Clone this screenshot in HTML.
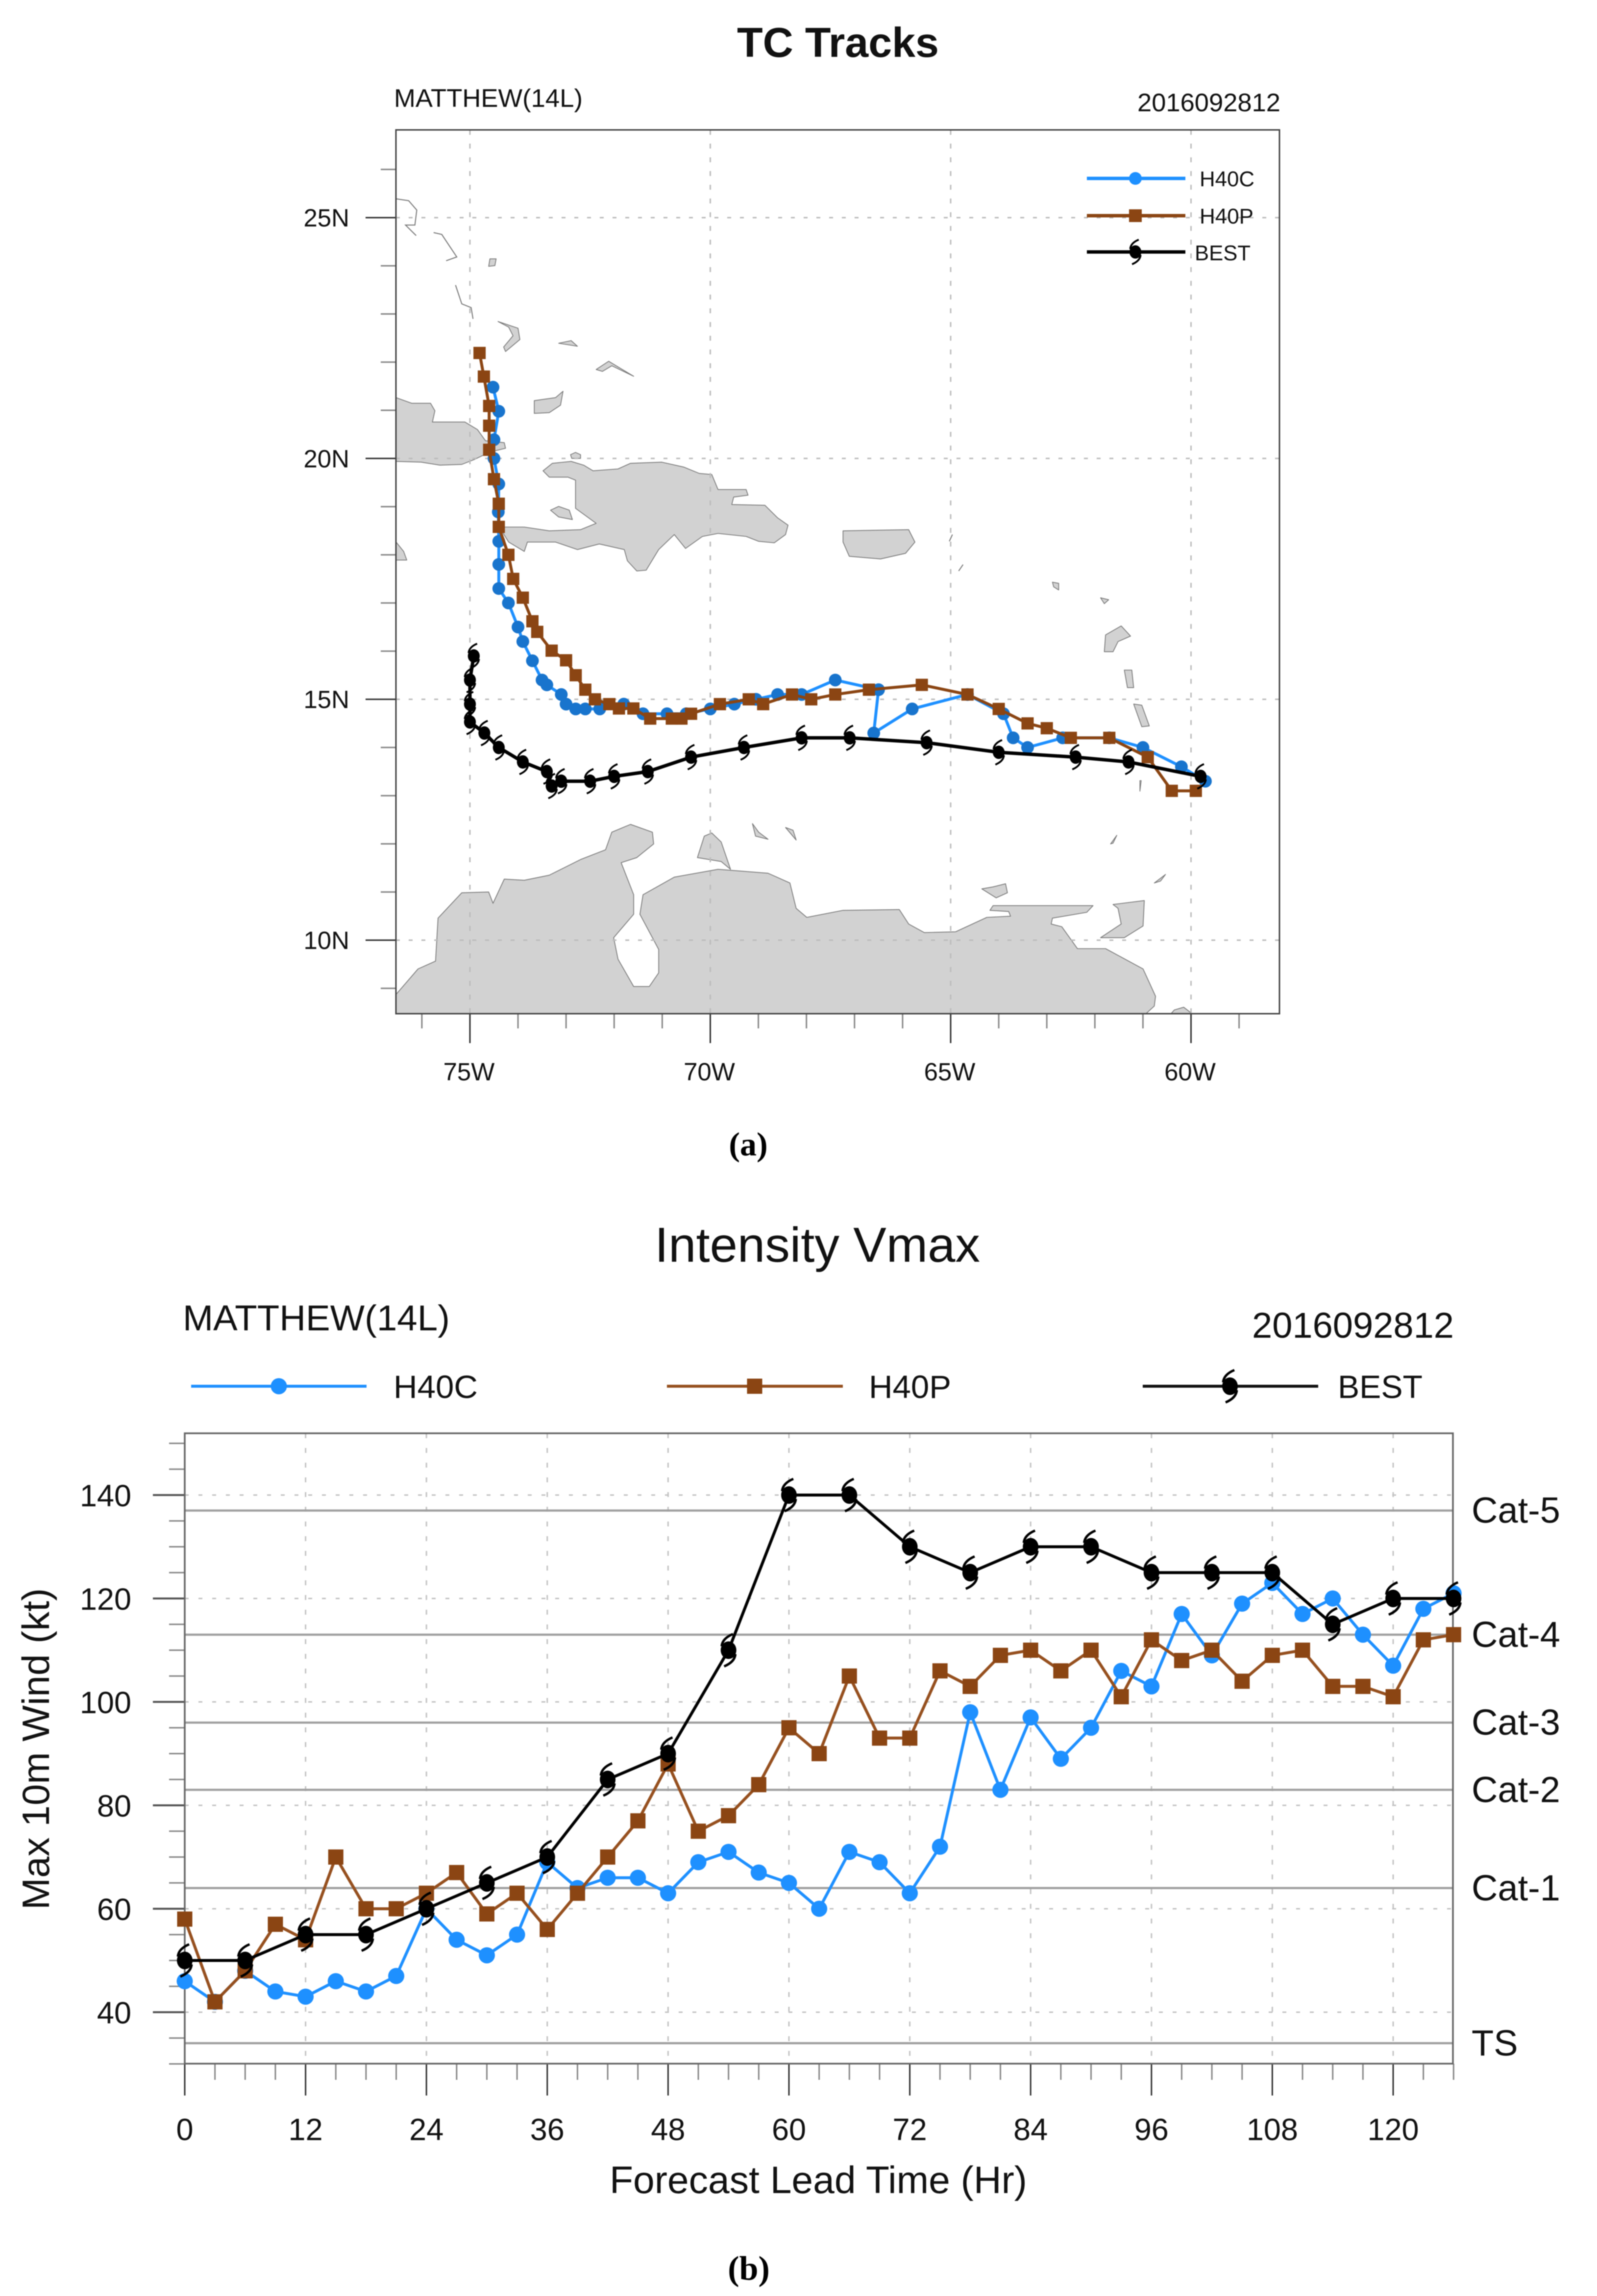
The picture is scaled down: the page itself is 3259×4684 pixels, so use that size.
<!DOCTYPE html>
<html lang="en">
<head>
<meta charset="utf-8">
<title>TC Tracks and Intensity Vmax - MATTHEW(14L)</title>
<style>
html,body{margin:0;padding:0;background:#fff;}
svg{display:block;filter:blur(1px);}
text{font-family:"Liberation Sans",sans-serif;fill:#111;}
.cap{font-family:"Liberation Serif",serif;font-weight:bold;fill:#000;}
.land polygon{fill:#d2d2d2;stroke:#777;stroke-width:1.6;vector-effect:non-scaling-stroke;stroke-linejoin:round;}
.coast polyline{fill:none;stroke:#777;stroke-width:2;vector-effect:non-scaling-stroke;}
</style>
</head>
<body>
<svg id="figure" xmlns="http://www.w3.org/2000/svg" width="3259" height="4684" viewBox="0 0 3259 4684">
<rect x="0" y="0" width="3259" height="4684" fill="#fff"/>
<defs><clipPath id="map-clip"><rect x="808" y="265" width="1803" height="1803"/></clipPath></defs>

<!-- Panel (a) -->
<g id="panel-a">
<text x="1710" y="116" font-size="85" font-weight="bold" text-anchor="middle" textLength="412" lengthAdjust="spacingAndGlyphs">TC Tracks</text>
<text x="804" y="218" font-size="52" textLength="385" lengthAdjust="spacingAndGlyphs">MATTHEW(14L)</text>
<text x="2321" y="227" font-size="52" textLength="292" lengthAdjust="spacingAndGlyphs">2016092812</text>
<g clip-path="url(#map-clip)">
<g class="land" transform="matrix(1.2755,0,0,.7653,700,0)">
<polygon points="85,1060 110,1075 140,1075 147,1095 143,1125 195,1125 215,1145 228,1175 258,1180 260,1195 235,1205 210,1225 190,1238 155,1240 125,1232 85,1230"/>
<polygon points="364,1212 372,1206 380,1212 380,1222 366,1222"/>
<polygon points="320,1255 335,1235 365,1230 385,1240 400,1255 440,1250 460,1235 510,1232 545,1245 570,1262 590,1265 600,1305 645,1305 648,1320 625,1325 622,1345 675,1347 695,1380 712,1400 708,1425 690,1447 665,1443 645,1430 600,1422 575,1430 548,1462 530,1425 505,1465 485,1520 470,1522 455,1495 450,1465 410,1450 375,1465 340,1445 295,1445 290,1470 265,1445 250,1405 290,1405 330,1415 380,1412 405,1395 372,1355 372,1280 360,1272 330,1272"/>
<polygon points="332,1360 345,1350 362,1360 367,1385 345,1378"/>
<polygon points="800,1415 905,1412 915,1445 900,1475 860,1490 810,1483 800,1445"/>
<polygon points="85,1445 97,1470 102,1493 85,1493"/>
<polygon points="235,690 245,690 243,708 233,710"/>
<polygon points="248,857 280,875 283,905 260,937 257,925 272,895 265,872"/>
<polygon points="345,915 365,908 375,923"/>
<polygon points="405,985 425,963 465,1003 430,975 415,990"/>
<polygon points="306,1068 340,1060 352,1043 348,1080 330,1100 306,1102"/>
</g>
<g class="coast" transform="matrix(1.2755,0,0,.7653,700,0)">
<polyline points="85,530 105,535 118,560 115,600 100,600 117,628"/>
<polyline points="145,620 158,625 182,685 165,695"/>
<polyline points="180,760 190,810 205,820 208,850"/>
<polyline points="975,1425 970,1443"/>
<polyline points="992,1505 985,1522"/>
</g>
<g class="land" transform="matrix(1.2755,0,0,.797,700,1100)">
<polygon points="1135,110 1145,113 1145,130 1137,122"/>
<polygon points="1212,150 1225,155 1218,165"/>
<polygon points="1220,245 1245,222 1260,248 1240,262 1232,288 1218,288"/>
<polygon points="1250,335 1262,335 1265,380 1255,380"/>
<polygon points="1265,422 1278,425 1290,478 1278,480"/>
<polygon points="1275,618 1277,618 1275,645"/>
<polygon points="85,1165 120,1100 148,1080 152,970 190,905 233,903 240,932 258,870 290,873 330,860 380,820 420,795 430,750 460,730 495,750 497,780 470,815 445,828 465,910 465,960 433,1020 440,1075 465,1145 490,1145 505,1110 505,1050 475,960 480,910 530,865 600,845 680,855 715,880 725,945 742,968 800,950 890,948 905,985 930,1007 980,1005 1030,968 1068,965 1065,953 1035,950 1040,938 1200,938 1190,955 1135,970 1133,985 1150,992 1175,1048 1220,1048 1280,1100 1300,1170 1298,1195 1285,1214 85,1214"/>
<polygon points="567,815 578,760 590,752 605,775 620,845 605,825"/>
<polygon points="655,728 665,750 680,768 660,760"/>
<polygon points="708,738 720,745 725,770"/>
<polygon points="1228,780 1238,758 1232,778"/>
<polygon points="1298,880 1316,858 1308,875"/>
<polygon points="1022,895 1040,890 1060,882 1063,905 1045,918"/>
<polygon points="1232,935 1282,925 1280,990 1250,1020 1212,1020 1245,985 1240,945"/>
<polygon points="1330,1205 1345,1198 1358,1214 1325,1214"/>
</g>
</g>
<g id="map-axes"></g>
<g id="map-series"></g>
<g id="map-legend">
<text x="2448" y="380" font-size="44" textLength="112" lengthAdjust="spacingAndGlyphs">H40C</text>
<text x="2448" y="456" font-size="44" textLength="110" lengthAdjust="spacingAndGlyphs">H40P</text>
<text x="2438" y="531" font-size="44" textLength="114" lengthAdjust="spacingAndGlyphs">BEST</text>
</g>
<text class="cap" x="1527" y="2357" font-size="68" text-anchor="middle">(a)</text>
</g>

<!-- Panel (b) -->
<g id="panel-b">
<text x="1336" y="2574" font-size="100" textLength="664" lengthAdjust="spacingAndGlyphs">Intensity Vmax</text>
<text x="373" y="2714" font-size="73" textLength="545" lengthAdjust="spacingAndGlyphs">MATTHEW(14L)</text>
<text x="2555" y="2729" font-size="73" textLength="412" lengthAdjust="spacingAndGlyphs">2016092812</text>
<text x="803" y="2852" font-size="66" textLength="172" lengthAdjust="spacingAndGlyphs">H40C</text>
<text x="1773" y="2852" font-size="66" textLength="168" lengthAdjust="spacingAndGlyphs">H40P</text>
<text x="2730" y="2852" font-size="66" textLength="173" lengthAdjust="spacingAndGlyphs">BEST</text>
<text transform="translate(100,3568) rotate(-90)" font-size="78" text-anchor="middle" textLength="656" lengthAdjust="spacingAndGlyphs">Max 10m Wind (kt)</text>
<text x="1244" y="4474" font-size="78" textLength="852" lengthAdjust="spacingAndGlyphs">Forecast Lead Time (Hr)</text>
<g id="wind-axes"></g>
<g id="wind-series"></g>
<g id="wind-legend"></g>
<text class="cap" x="1528" y="4651" font-size="70" text-anchor="middle">(b)</text>
</g>
</svg>

<script>
// ---- Panel (a) data ----
const latTicks = [10, 15, 20, 25];
const latTickLabels = ['10N', '15N', '20N', '25N'];
const latMinorTicks = [9, 11, 12, 13, 14, 16, 17, 18, 19, 21, 22, 23, 24, 26];
const lonTicks = [-75, -70, -65, -60];
const lonTickLabels = ['75W', '70W', '65W', '60W'];
const lonMinorTicks = [-76, -74, -73, -72, -71, -69, -68, -67, -66, -64, -63, -62, -61, -59];

const h40cLon = [-74.52, -74.40, -74.50, -74.50, -74.40, -74.41, -74.40, -74.40, -74.40, -74.20, -74.00, -73.90, -73.70, -73.50, -73.40, -73.10, -73.00, -72.80, -72.60, -72.30, -71.80, -71.40, -70.90, -70.50, -70.00, -69.50, -69.05, -68.60, -68.10, -67.40, -66.50, -66.60, -65.80, -64.65, -63.90, -63.70, -63.40, -62.67, -61.70, -61.00, -60.20, -59.70];
const h40cLat = [21.48, 20.98, 20.39, 20.00, 19.47, 18.89, 18.28, 17.80, 17.30, 17.00, 16.50, 16.20, 15.80, 15.40, 15.30, 15.10, 14.90, 14.80, 14.80, 14.80, 14.90, 14.70, 14.70, 14.70, 14.80, 14.90, 15.00, 15.10, 15.10, 15.40, 15.20, 14.30, 14.80, 15.10, 14.70, 14.20, 14.00, 14.20, 14.20, 14.00, 13.60, 13.30];

const h40pLon = [-74.80, -74.71, -74.60, -74.60, -74.60, -74.50, -74.40, -74.40, -74.20, -74.10, -73.90, -73.70, -73.60, -73.30, -73.00, -72.80, -72.60, -72.40, -72.10, -71.90, -71.60, -71.25, -70.80, -70.60, -70.40, -69.80, -69.20, -68.90, -68.30, -67.90, -67.40, -66.70, -65.60, -64.65, -64.00, -63.40, -63.00, -62.50, -61.70, -60.90, -60.40, -59.90];
const h40pLat = [22.19, 21.70, 21.09, 20.68, 20.18, 19.57, 19.06, 18.58, 18.00, 17.50, 17.11, 16.62, 16.40, 16.01, 15.81, 15.50, 15.20, 15.00, 14.90, 14.81, 14.81, 14.60, 14.60, 14.60, 14.70, 14.90, 15.00, 14.90, 15.10, 15.00, 15.10, 15.20, 15.30, 15.10, 14.80, 14.50, 14.40, 14.20, 14.20, 13.80, 13.10, 13.10];

const bestLon = [-74.92, -75.00, -75.00, -75.00, -74.70, -74.40, -73.90, -73.40, -73.30, -73.10, -72.50, -72.00, -71.30, -70.40, -69.30, -68.10, -67.10, -65.50, -64.00, -62.40, -61.30, -59.80];
const bestLat = [15.90, 15.40, 14.90, 14.53, 14.30, 14.00, 13.70, 13.50, 13.20, 13.30, 13.30, 13.40, 13.50, 13.80, 14.00, 14.20, 14.20, 14.10, 13.90, 13.80, 13.70, 13.40];

// ---- Panel (b) data ----
const windTicks = [40, 60, 80, 100, 120, 140];
const windTickLabels = ['40', '60', '80', '100', '120', '140'];
const windMinorTicks = [30, 35, 45, 50, 55, 65, 70, 75, 85, 90, 95, 105, 110, 115, 125, 130, 135, 145, 150];
const leadTicks = [0, 12, 24, 36, 48, 60, 72, 84, 96, 108, 120];
const leadTickLabels = ['0', '12', '24', '36', '48', '60', '72', '84', '96', '108', '120'];
const leadMinorTicks = [3, 6, 9, 15, 18, 21, 27, 30, 33, 39, 42, 45, 51, 54, 57, 63, 66, 69, 75, 78, 81, 87, 90, 93, 99, 102, 105, 111, 114, 117, 123, 126];
const categoryNames = ['Cat-5', 'Cat-4', 'Cat-3', 'Cat-2', 'Cat-1', 'TS'];
const categoryWinds = [137, 113, 96, 83, 64, 34];

const h40cHours = [0, 3, 6, 9, 12, 15, 18, 21, 24, 27, 30, 33, 36, 39, 42, 45, 48, 51, 54, 57, 60, 63, 66, 69, 72, 75, 78, 81, 84, 87, 90, 93, 96, 99, 102, 105, 108, 111, 114, 117, 120, 123, 126];
const h40cWind = [46, 42, 48, 44, 43, 46, 44, 47, 60, 54, 51, 55, 69, 64, 66, 66, 63, 69, 71, 67, 65, 60, 71, 69, 63, 72, 98, 83, 97, 89, 95, 106, 103, 117, 109, 119, 123, 117, 120, 113, 107, 118, 121];
const h40pHours = [0, 3, 6, 9, 12, 15, 18, 21, 24, 27, 30, 33, 36, 39, 42, 45, 48, 51, 54, 57, 60, 63, 66, 69, 72, 75, 78, 81, 84, 87, 90, 93, 96, 99, 102, 105, 108, 111, 114, 117, 120, 123, 126];
const h40pWind = [58, 42, 48, 57, 54, 70, 60, 60, 63, 67, 59, 63, 56, 63, 70, 77, 88, 75, 78, 84, 95, 90, 105, 93, 93, 106, 103, 109, 110, 106, 110, 101, 112, 108, 110, 104, 109, 110, 103, 103, 101, 112, 113];
const bestHours = [0, 6, 12, 18, 24, 30, 36, 42, 48, 54, 60, 66, 72, 78, 84, 90, 96, 102, 108, 114, 120, 126];
const bestWind = [50, 50, 55, 55, 60, 65, 70, 85, 90, 110, 140, 140, 130, 125, 130, 130, 125, 125, 125, 115, 120, 120];

// ---- Scales ----
function mapX(lon) { return 959 + (lon + 75) * 98.1; }
function mapY(lat) { return 1918 - (lat - 10) * 98.27; }
function leadX(h) { return 377 + h * 20.55; }
function windY(v) { return 4105 - (v - 40) * 10.55; }

const NS = 'http://www.w3.org/2000/svg';
function mk(tag, parent, attrs, txt) {
  const el = document.createElementNS(NS, tag);
  for (const k in attrs) el.setAttribute(k, attrs[k]);
  if (txt !== undefined) el.textContent = txt;
  parent.appendChild(el);
  return el;
}
function pts(xs, ys) { return xs.map(function (x, i) { return x.toFixed(1) + ',' + ys[i].toFixed(1); }).join(' '); }

function circleMark(parent, x, y, r, color, name) {
  const el = mk('circle', parent, { cx: x, cy: y, r: r, fill: color });
  
  
}
function squareMark(parent, x, y, s, color, name) {
  const el = mk('rect', parent, { x: x - s / 2, y: y - s / 2, width: s, height: s, fill: color });
  
  
}
function hurricaneMark(parent, x, y, k, name) {
  const g = mk('g', parent, { transform: 'translate(' + x + ',' + y + ') scale(' + k + ')' });
  
  
  mk('ellipse', g, { cx: 0, cy: 0, rx: 16, ry: 18, fill: '#000' });
  mk('path', g, { d: 'M-14,-8 C-13,-20 -3,-28 9,-33 M14,8 C13,20 3,28 -9,33', fill: 'none', stroke: '#000', 'stroke-width': 5 });
}
function polyLine(parent, xs, ys, color, w, name) {
  const el = mk('polyline', parent, { points: pts(xs, ys), fill: 'none', stroke: color, 'stroke-width': w, 'stroke-linejoin': 'round' });
  
  
}
function axisLine(parent, x1, y1, x2, y2, color, w, dash, name) {
  const a = { x1: x1, y1: y1, x2: x2, y2: y2, stroke: color, 'stroke-width': w };
  if (dash) a['stroke-dasharray'] = dash;
  const el = mk('line', parent, a);
  
  
}

// ---- Draw panel (a) ----
const mapAxes = document.getElementById('map-axes');
const mL = 808, mR = 2611, mT = 265, mB = 2068;
latTicks.forEach(function (v, i) {
  const y = mapY(v);
  axisLine(mapAxes, mL, y, mR, y, '#bcbcbc', 3, '8 18', 'lat-gridline');
  axisLine(mapAxes, 746, y, mL, y, '#333', 3, null, 'lat-major-tick');
  const t = mk('text', mapAxes, { x: 713, y: y + 18, 'font-size': 51, 'text-anchor': 'end' }, latTickLabels[i]);
  
  
});
latMinorTicks.forEach(function (v) {
  axisLine(mapAxes, 777, mapY(v), mL, mapY(v), '#888', 3, null, 'lat-minor-tick');
});
lonTicks.forEach(function (v, i) {
  const x = mapX(v);
  axisLine(mapAxes, x, mT, x, mB, '#bcbcbc', 3, '10 18', 'lon-gridline');
  axisLine(mapAxes, x, mB, x, 2128, '#333', 3, null, 'lon-major-tick');
  const t = mk('text', mapAxes, { x: x - 2, y: 2204, 'font-size': 51, 'text-anchor': 'middle' }, lonTickLabels[i]);
  
  
});
lonMinorTicks.forEach(function (v) {
  axisLine(mapAxes, mapX(v), mB, mapX(v), 2098, '#888', 3, null, 'lon-minor-tick');
});
const mapFrame = mk('rect', mapAxes, { x: mL, y: mT, width: mR - mL, height: mB - mT, fill: 'none', stroke: '#444', 'stroke-width': 3 });



const mapSeries = document.getElementById('map-series');
polyLine(mapSeries, h40cLon.map(mapX), h40cLat.map(mapY), '#1e90ff', 6, 'track-h40c');
h40cLon.forEach(function (v, i) { circleMark(mapSeries, mapX(v), mapY(h40cLat[i]), 13, '#1874cd', 'track-h40c-point'); });
polyLine(mapSeries, h40pLon.map(mapX), h40pLat.map(mapY), '#8b4513', 6, 'track-h40p');
h40pLon.forEach(function (v, i) { squareMark(mapSeries, mapX(v), mapY(h40pLat[i]), 25, '#8b4513', 'track-h40p-point'); });
polyLine(mapSeries, bestLon.map(mapX), bestLat.map(mapY), '#000', 7, 'track-best');
bestLon.forEach(function (v, i) { hurricaneMark(mapSeries, mapX(v), mapY(bestLat[i]), 0.76, 'track-best-point'); });

const mapLegend = document.getElementById('map-legend');
axisLine(mapLegend, 2218, 364, 2419, 364, '#1e90ff', 7, null, 'map-legend-line-h40c');
circleMark(mapLegend, 2317, 364, 13, '#1e90ff', 'map-legend-marker-h40c');
axisLine(mapLegend, 2218, 440, 2419, 440, '#8b4513', 7, null, 'map-legend-line-h40p');
squareMark(mapLegend, 2317, 440, 26, '#8b4513', 'map-legend-marker-h40p');
axisLine(mapLegend, 2218, 514, 2419, 514, '#000', 7, null, 'map-legend-line-best');
hurricaneMark(mapLegend, 2317, 514, 0.76, 'map-legend-marker-best');

// ---- Draw panel (b) ----
const windAxes = document.getElementById('wind-axes');
const wL = 377, wR = 2965, wT = 2924, wB = 4210;
windTicks.forEach(function (v, i) {
  const y = windY(v);
  axisLine(windAxes, wL, y, wR, y, '#c4c4c4', 3, '8 20', 'wind-gridline');
  axisLine(windAxes, 312, y, wL, y, '#555', 4, null, 'wind-major-tick');
  const t = mk('text', windAxes, { x: 268, y: y + 23, 'font-size': 63, 'text-anchor': 'end' }, windTickLabels[i]);
  
  
});
windMinorTicks.forEach(function (v) {
  axisLine(windAxes, 345, windY(v), wL, windY(v), '#888', 3, null, 'wind-minor-tick');
});
leadTicks.forEach(function (v, i) {
  const x = leadX(v);
  axisLine(windAxes, x, wT, x, wB, '#c4c4c4', 3, '10 20', 'lead-gridline');
  axisLine(windAxes, x, wB, x, 4275, '#333', 3, null, 'lead-major-tick');
  const t = mk('text', windAxes, { x: x, y: 4366, 'font-size': 63, 'text-anchor': 'middle' }, leadTickLabels[i]);
  
  
});
leadMinorTicks.forEach(function (v) {
  axisLine(windAxes, leadX(v), wB, leadX(v), 4243, '#888', 3, null, 'lead-minor-tick');
});
categoryWinds.forEach(function (v, i) {
  const y = windY(v);
  axisLine(windAxes, wL, y, wR, y, '#a0a0a0', 4.5, null, 'category-line');
  const t = mk('text', windAxes, { x: 3003, y: y + 25, 'font-size': 74 }, categoryNames[i]);
  
  
});
const windFrame = mk('rect', windAxes, { x: wL, y: wT, width: wR - wL, height: wB - wT, fill: 'none', stroke: '#666', 'stroke-width': 3.5 });



const windSeries = document.getElementById('wind-series');
polyLine(windSeries, h40cHours.map(leadX), h40cWind.map(windY), '#1e90ff', 6, 'line-h40c');
h40cHours.forEach(function (h, i) { circleMark(windSeries, leadX(h), windY(h40cWind[i]), 16.5, '#1e90ff', 'point-h40c'); });
polyLine(windSeries, h40pHours.map(leadX), h40pWind.map(windY), '#96501f', 6, 'line-h40p');
h40pHours.forEach(function (h, i) { squareMark(windSeries, leadX(h), windY(h40pWind[i]), 31, '#8b4513', 'point-h40p'); });
polyLine(windSeries, bestHours.map(leadX), bestWind.map(windY), '#000', 6, 'line-best');
bestHours.forEach(function (h, i) { hurricaneMark(windSeries, leadX(h), windY(bestWind[i]), 1, 'point-best'); });

const windLegend = document.getElementById('wind-legend');
axisLine(windLegend, 390, 2828, 748, 2828, '#1e90ff', 6, null, 'intensity-legend-line-h40c');
circleMark(windLegend, 569, 2828, 16.5, '#1e90ff', 'intensity-legend-marker-h40c');
axisLine(windLegend, 1361, 2828, 1720, 2828, '#96501f', 6, null, 'intensity-legend-line-h40p');
squareMark(windLegend, 1540, 2828, 31, '#8b4513', 'intensity-legend-marker-h40p');
axisLine(windLegend, 2332, 2828, 2690, 2828, '#111', 6, null, 'intensity-legend-line-best');
hurricaneMark(windLegend, 2510, 2828, 1, 'intensity-legend-marker-best');
</script>
</body>
</html>
